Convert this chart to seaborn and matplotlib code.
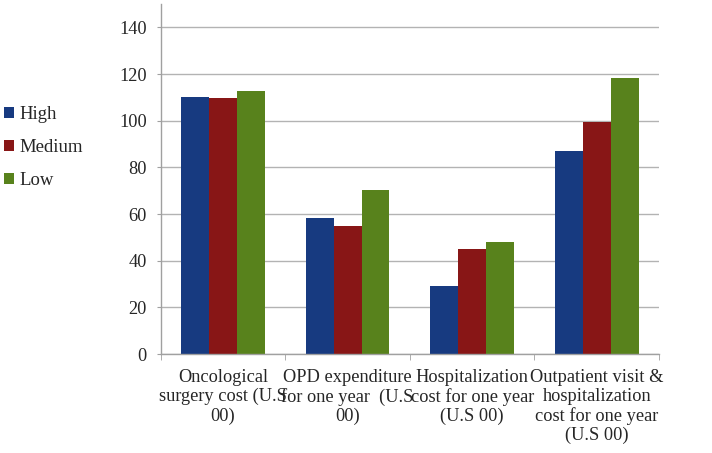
import matplotlib.pyplot as plt
import seaborn as sns
import pandas as pd
from matplotlib.ticker import FixedLocator

# Data
categories = ['Oncological\nsurgery cost (U.S\n00)',
              'OPD expenditure\nfor one year  (U.S\n00)',
              'Hospitalization\ncost for one year\n(U.S 00)',
              'Outpatient visit &\nhospitalization\ncost for one year\n(U.S 00)']
high = [110.0, 58.1, 29.1, 87.1]
medium = [109.6, 54.7, 44.9, 99.3]
low = [112.7, 70.4, 47.9, 118.3]
levels = ['High', 'Medium', 'Low']
colors = ['#173a80', '#881616', '#58821c']

df = pd.DataFrame({
    'Category': categories * 3,
    'Level': [l for l in levels for _ in categories],
    'Value': high + medium + low,
})

sns.set_style('white')
plt.rcParams['font.family'] = ['Liberation Serif', 'DejaVu Serif']

fig = plt.figure(figsize=(7.12, 4.53), dpi=100)
ax = fig.add_axes([0.2257, 0.2185, 0.7, 0.7725])

sns.barplot(data=df, x='Category', y='Value', hue='Level', palette=colors,
            width=0.67, saturation=1, linewidth=0, ax=ax, legend=True)

ax.set_ylim(0, 150)
ax.set_xlim(-0.5, 3.5)
ax.set_yticks(range(0, 141, 20))
ax.yaxis.grid(True, color='#b3b3b3', linewidth=1)
ax.set_axisbelow(True)
ax.set_xlabel('')
ax.set_ylabel('')

for side in ['top', 'right']:
    ax.spines[side].set_visible(False)
for side in ['left', 'bottom']:
    ax.spines[side].set_color('#a0a0a0')
    ax.spines[side].set_linewidth(1)

ax.tick_params(axis='y', labelsize=13.2, length=3, color='#a0a0a0', left=True, pad=7)
ax.tick_params(axis='x', which='major', labelsize=13.2, length=0, pad=11)
ax.xaxis.set_minor_locator(FixedLocator([-0.5, 0.5, 1.5, 2.5, 3.5]))
ax.tick_params(axis='x', which='minor', length=4, color='#a0a0a0', bottom=True)
for lbl in ax.get_xticklabels():
    lbl.set_linespacing(1.14)

# legend on the left side of the figure
handles, labels = ax.get_legend_handles_labels()
ax.get_legend().remove()
fig.legend(handles, labels, loc='upper left', bbox_to_anchor=(0.006, 0.765),
           frameon=False, fontsize=13.5, handlelength=0.5, handleheight=0.5,
           handletextpad=0.3, labelspacing=0.85, borderaxespad=0, borderpad=0)

plt.savefig('out.png', dpi=100)
